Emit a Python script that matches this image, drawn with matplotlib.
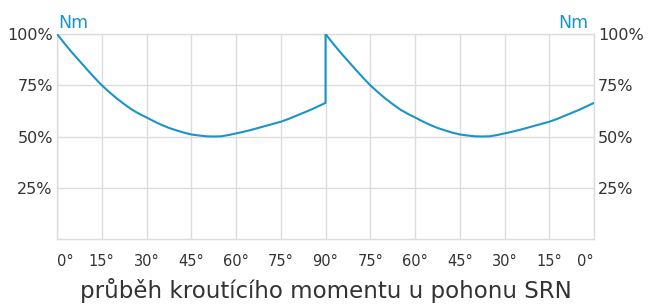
import matplotlib.pyplot as plt

# průběh momentu v jedné polovině (0° .. 90°), v procentech
angles = [0, 2.5, 5, 7.5, 10, 12.5, 15, 17.5, 20, 22.5, 25, 27.5, 30, 32.5, 35, 37.5,
          40, 42.5, 45, 47.5, 50, 52.5, 55, 57.5, 60, 62.5, 65, 67.5, 70, 72.5, 75,
          77.5, 80, 82.5, 85, 87.5, 90]
torque = [100, 95.4, 91.0, 86.9, 82.8, 78.8, 75.0, 71.7, 68.6, 65.8, 63.2, 61.1, 59.3,
          57.4, 55.7, 54.2, 53.0, 51.9, 51.0, 50.5, 50.1, 50.0, 50.1, 50.7, 51.5, 52.3,
          53.2, 54.2, 55.2, 56.2, 57.2, 58.5, 60.0, 61.5, 63.0, 64.7, 66.4]

tick_pos = [0, 15, 30, 45, 60, 75, 90, 105, 120, 135, 150, 165, 180]
tick_labels = ["0°", "15°", "30°", "45°", "60°", "75°", "90°", "75°", "60°", "45°", "30°", "15°", "0°"]
y_ticks = [25, 50, 75, 100]
y_labels = ["25%", "50%", "75%", "100%"]

LINE = "#1a94c9"
GRID = "#dcdcdc"
TEXT = "#333333"

plt.rcParams["font.family"] = ["DejaVu Sans"]

# druhá polovina se opakuje po skoku v 90°
x = angles + [90 + a for a in angles]
y = torque + torque

fig = plt.figure(figsize=(6.48, 3.05), dpi=100)
ax = fig.add_axes([0.088, 0.2164, 0.8287, 0.6721])

ax.plot(x, y, color=LINE, linewidth=1.5, solid_joinstyle="miter", zorder=3)

ax.set_xlim(0, 180)
ax.set_ylim(0, 100)
ax.set_xticks(tick_pos)
ax.set_xticklabels(tick_labels)
ax.set_yticks(y_ticks)
ax.set_yticklabels(y_labels)

xt = ax.get_xticklabels()
xt[0].set_ha("left")
xt[-1].set_ha("right")

ax.grid(True, color=GRID, linewidth=1.0, zorder=0)
for s in ax.spines.values():
    s.set_color(GRID)
    s.set_linewidth(1.0)

ax.tick_params(axis="x", length=0, pad=11, labelsize=10.5, colors=TEXT)
ax.tick_params(axis="y", length=0, pad=3, labelsize=11.5, colors=TEXT,
               labelleft=True, labelright=True)

ax.set_xlabel("průběh kroutícího momentu u pohonu SRN", fontsize=16.5, color=TEXT, labelpad=6)

ax.text(0.002, 1.01, "Nm", transform=ax.transAxes, color=LINE, fontsize=12.5,
        ha="left", va="bottom")
ax.text(0.989, 1.01, "Nm", transform=ax.transAxes, color=LINE, fontsize=12.5,
        ha="right", va="bottom")

fig.savefig("out.png", dpi=100)
